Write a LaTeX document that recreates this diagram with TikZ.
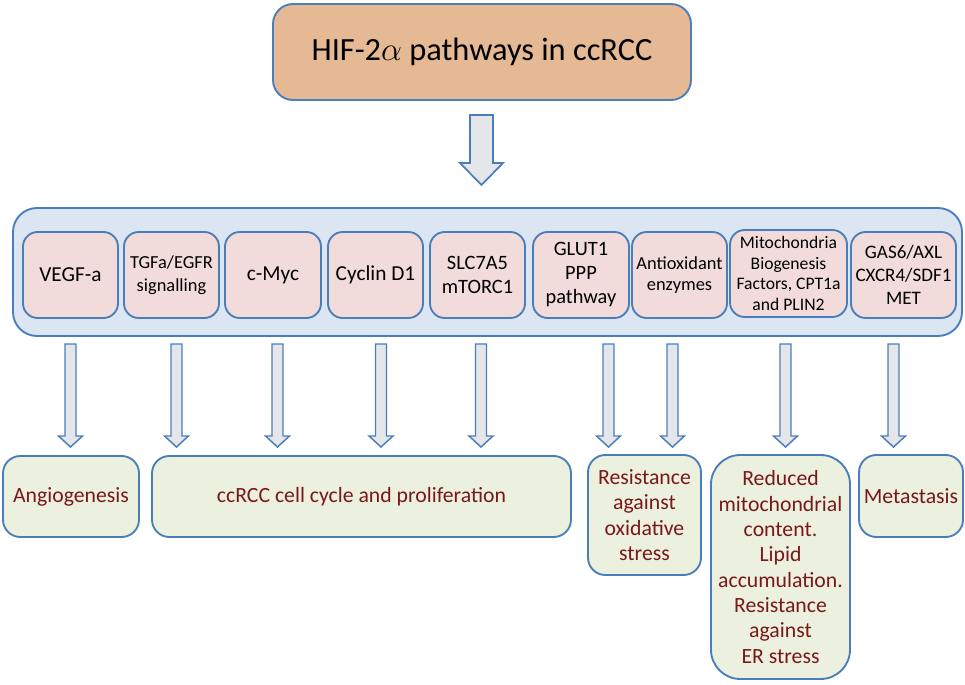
\documentclass[tikz,border=0pt]{standalone}
\usepackage{fontspec}
\setmainfont{Carlito}
\definecolor{bordc}{RGB}{74,126,187}
\definecolor{topfill}{RGB}{229,185,147}
\definecolor{contfill}{RGB}{220,230,242}
\definecolor{infill}{RGB}{242,220,219}
\definecolor{botfill}{RGB}{235,241,222}
\definecolor{arrfill}{RGB}{229,230,233}
\definecolor{redtxt}{RGB}{122,24,24}
\tikzset{
  basebox/.style={draw=bordc, line width=1.4pt, align=center, inner sep=0pt, outer sep=0pt},
  topbox/.style={basebox, fill=topfill, rounded corners=15pt, minimum width=313.5pt, minimum height=72pt, font=\fontsize{24.3}{29}\selectfont},
  contbox/.style={basebox, fill=contfill, rounded corners=18pt, minimum width=711.75pt, minimum height=96pt},
  inbox/.style={basebox, fill=infill, rounded corners=11pt, minimum width=71.25pt, minimum height=64.5pt, font=\fontsize{16}{18}\selectfont},
  botbox/.style={basebox, fill=botfill, rounded corners=13pt, text=redtxt, font=\fontsize{16.3}{19}\selectfont},
  blockarr/.style={draw=bordc, fill=arrfill, line width=1.1pt, line join=miter}
}
\begin{document}
\begin{tikzpicture}[x=0.75pt,y=-0.75pt]
\useasboundingbox (0,0) rectangle (965,685);
% top
\node[topbox] (top) at (482,52) {HIF-2$\alpha$ pathways in ccRCC};
% big arrow
\draw[blockarr, line width=1.3pt] (470,115) -- (493,115) -- (493,163) -- (503,163) -- (481.5,185) -- (460,163) -- (470,163) -- cycle;
% container
\node[contbox] (cont) at (487.5,272) {};
% inner boxes
\node[inbox] (b1) at (70.5,275) {VEGF-a};
\node[inbox, font=\fontsize{13.8}{17.3}\selectfont] (b2) at (171.5,275) {TGFa/EGFR\\signalling};
\node[inbox, minimum width=72pt] (b3) at (273,275) {c-Myc};
\node[inbox] (b4) at (375.5,275) {Cyclin D1};
\node[inbox, font=\fontsize{15.3}{18}\selectfont] (b5) at (477.5,275) {SLC7A5\\mTORC1};
\node[inbox, minimum width=72pt, font=\fontsize{15.3}{18}\selectfont] (b6) at (581,275) {GLUT1\\PPP\\pathway};
\node[inbox, font=\fontsize{13.8}{16.3}\selectfont] (b7) at (679.5,275) {Antioxidant\\enzymes};
\node[inbox, minimum width=87.75pt, minimum height=65.25pt, font=\fontsize{13.2}{15.5}\selectfont] (b8) at (788.5,273.5) {Mitochondria\\Biogenesis\\Factors, CPT1a\\and PLIN2};
\node[inbox, minimum width=78.75pt, font=\fontsize{14.3}{17.5}\selectfont] (b9) at (903.5,275) {GAS6/AXL\\CXCR4/SDF1\\MET};
% small arrows
\foreach \x in {70.5,176.5,277.5,381,481,608.5,672.5,785.5,893.5}
  \draw[blockarr] (\x-5.5,344) -- (\x+5.5,344) -- (\x+5.5,436) -- (\x+12,436) -- (\x,447) -- (\x-12,436) -- (\x-5.5,436) -- cycle;
% bottom boxes
\node[botbox, minimum width=102pt, minimum height=60.75pt] (o1) at (71,496.5) {Angiogenesis};
\node[botbox, minimum width=314.25pt, minimum height=60.75pt] (o2) at (361.5,496.5) {ccRCC cell cycle and proliferation};
\node[botbox, minimum width=84.75pt, minimum height=90pt] (o3) at (644.5,515) {Resistance\\against\\oxidative\\stress};
\node[botbox, rounded corners=22pt, minimum width=104.25pt, minimum height=168pt] (o4) at (780.5,567) {Reduced\\mitochondrial\\content.\\Lipid\\accumulation.\\Resistance\\against\\ER stress};
\node[botbox, minimum width=78pt, minimum height=61.5pt] (o5) at (911,496) {Metastasis};
\end{tikzpicture}
\end{document}
